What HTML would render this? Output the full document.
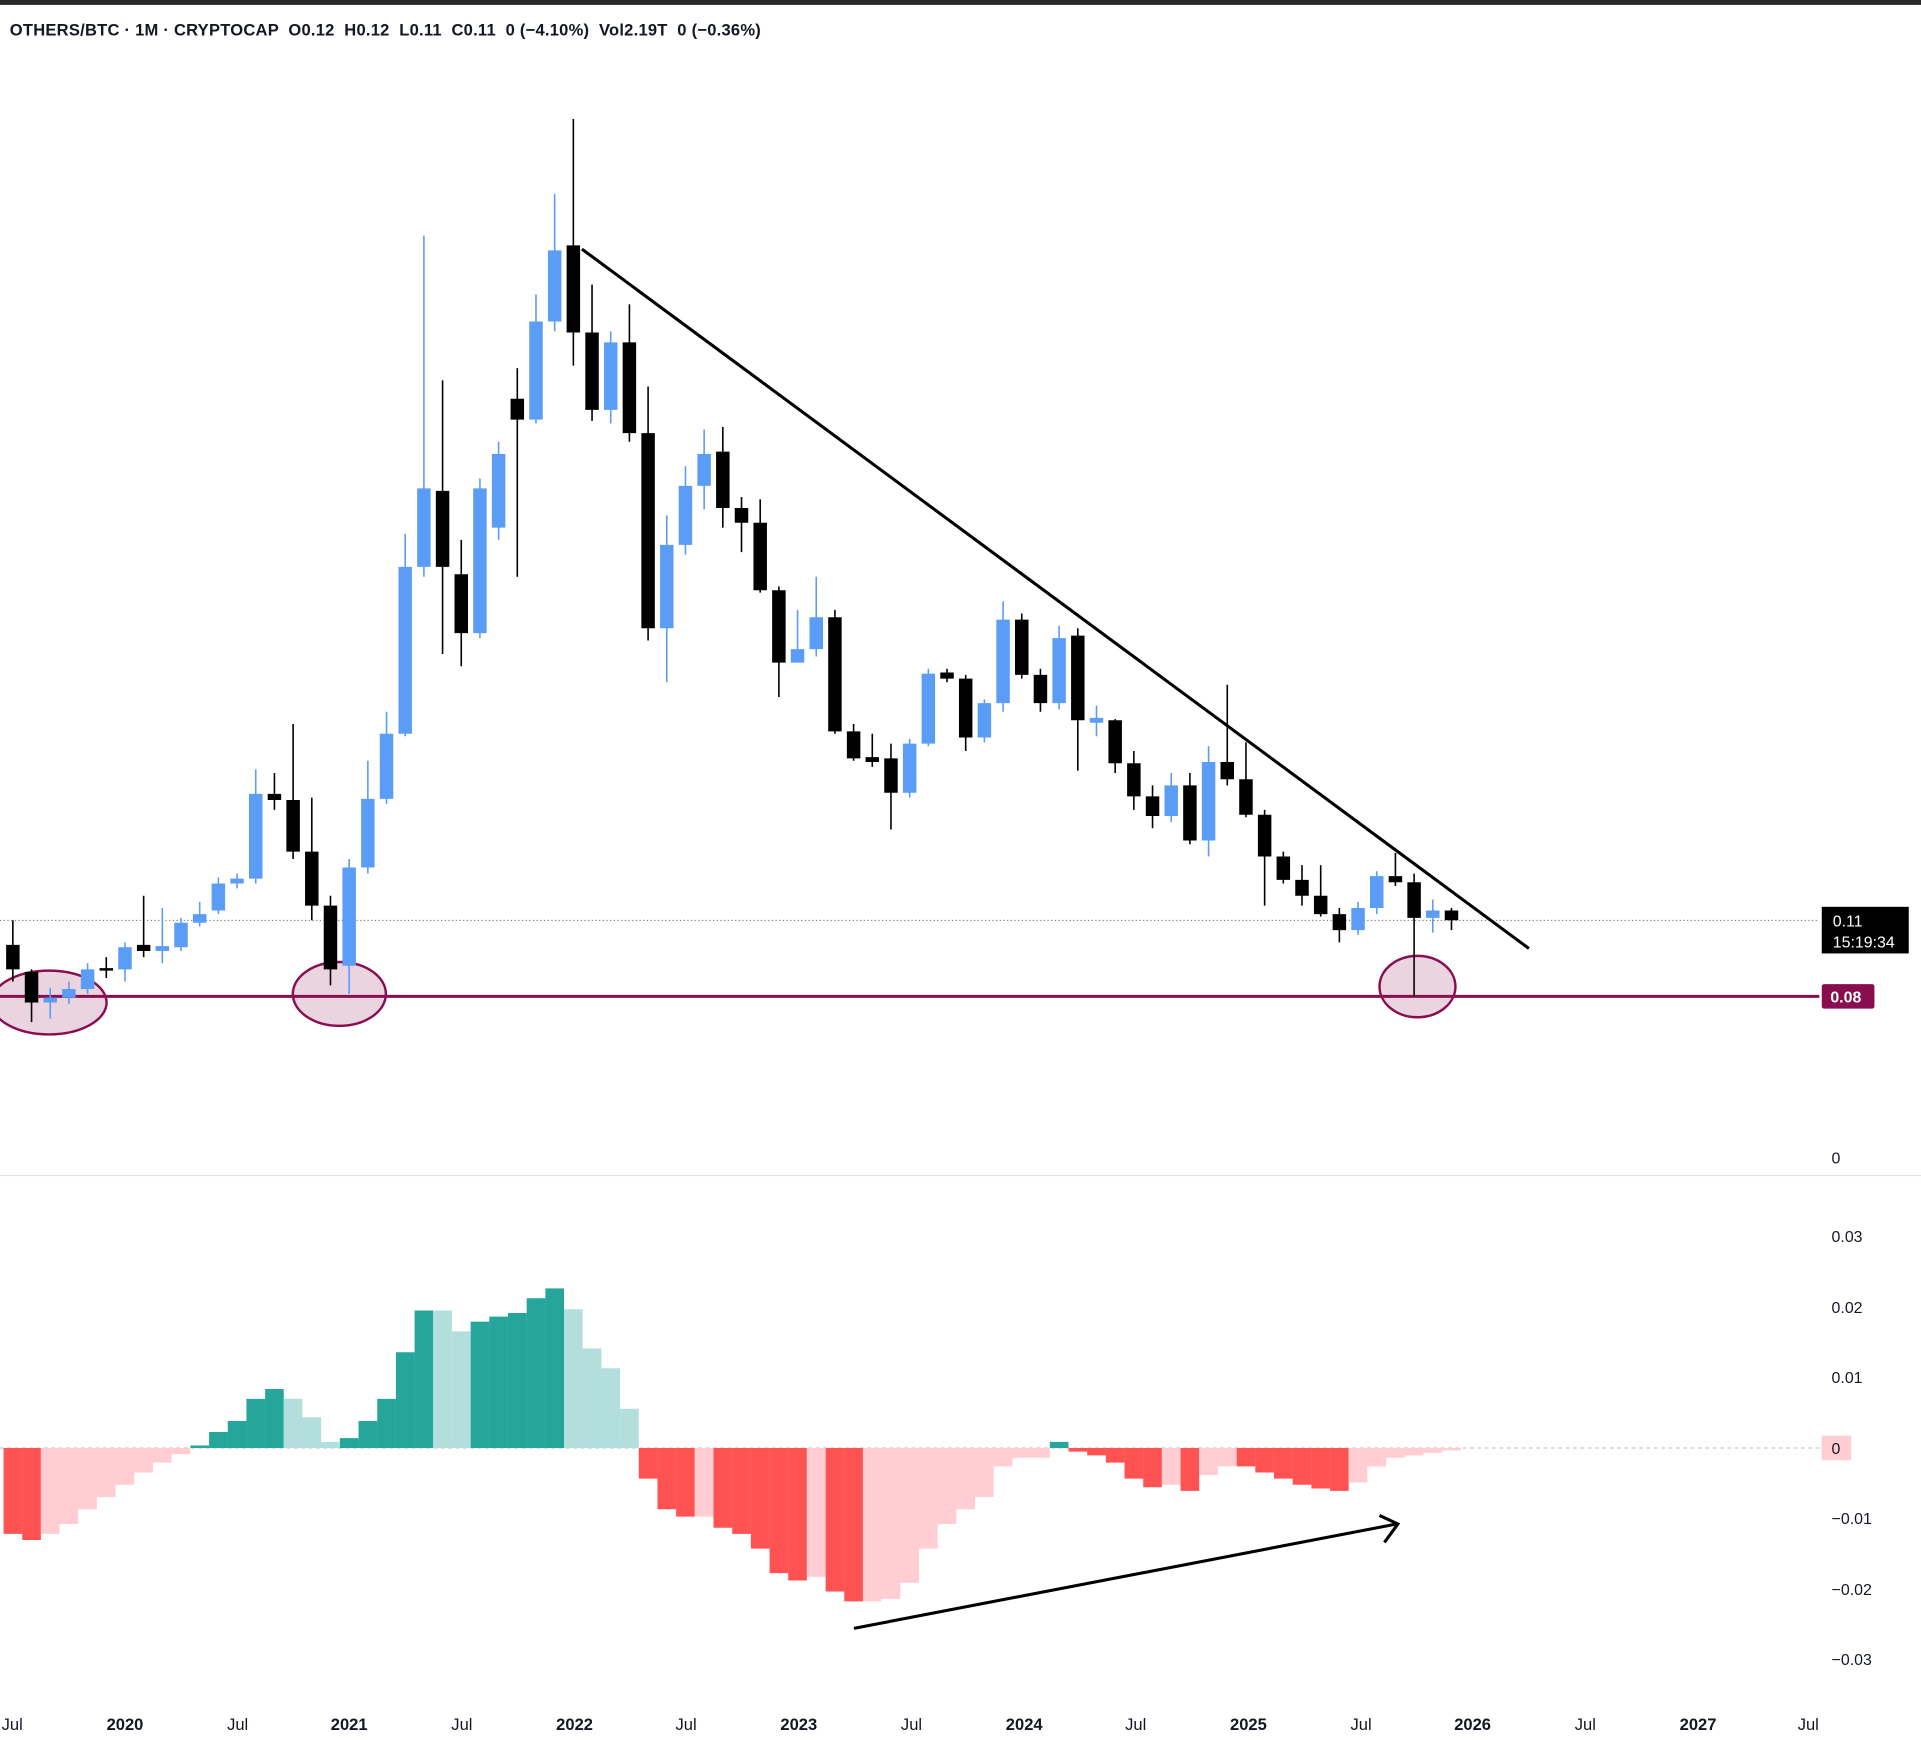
<!DOCTYPE html>
<html><head><meta charset="utf-8"><style>
html,body{margin:0;padding:0;background:#fff;}
svg{display:block;}
text{font-family:"Liberation Sans",sans-serif;}
</style></head><body>
<svg width="1921" height="1740" viewBox="0 0 1568 1418" preserveAspectRatio="none" xmlns="http://www.w3.org/2000/svg">
<rect x="0" y="0" width="1568" height="1418" fill="#fff"/>
<rect x="0" y="0" width="1568" height="4" fill="#2a2a2a"/>
<text x="8" y="29" font-size="13.5" font-weight="bold" fill="#131722" textLength="613" lengthAdjust="spacing" xml:space="preserve">OTHERS/BTC · 1M · CRYPTOCAP  O0.12  H0.12  L0.11  C0.11  0 (−4.10%)  Vol2.19T  0 (−0.36%)</text>
<line x1="0" y1="958" x2="1568" y2="958" stroke="#e0e3eb" stroke-width="1"/>
<line x1="0" y1="750" x2="1485" y2="750" stroke="#555" stroke-width="0.8" stroke-dasharray="1,2"/>
<line x1="0" y1="1180" x2="1485" y2="1180" stroke="#bbb" stroke-width="0.8" stroke-dasharray="3,3"/>
<g fill="rgba(136,14,79,0.18)" stroke="#880e4f" stroke-width="2">
<ellipse cx="40" cy="817" rx="47" ry="26"/>
<ellipse cx="277" cy="810" rx="38" ry="26"/>
<ellipse cx="1157" cy="804" rx="31" ry="25"/>
</g>
<line x1="0" y1="812" x2="1485" y2="812" stroke="#880e4f" stroke-width="2.5"/>

<path fill="none" stroke="#5b9cf6" stroke-width="1.3" d="M41 805V830M56.25 800V818M71.5 785V810M102 768V800M132.5 740V785M147.75 748V775M163 735V755M178.25 715V745M193.5 712V724M208.75 627V720M285 700V810M300.25 620V712M315.5 580V655M330.75 435V600M346 192V470M391.75 390V520M407 360V440M437.5 240V345M452.75 158V270M498.5 270V345M544.25 420V556M559.5 380V452M574.75 350V415M651 497V540M666.25 470V535M742.5 602V650M757.75 545V608M803.5 570V605M818.75 490V580M864.5 510V578M895 575V600M956 630V670M986.5 608V698M1108.5 735V762M1123.75 710V745M1169.5 733V760"/>
<path fill="none" stroke="#5b9cf6" stroke-width="11" d="M41 813V817M56.25 806V813M71.5 790V806M102 772V790M132.5 771V775M147.75 752V772M163 745V752M178.25 720V742M193.5 716V720M208.75 647V716M285 707V787M300.25 651V707M315.5 598V651M330.75 462V598M346 398V462M391.75 398V516M407 370V430M437.5 262V342M452.75 204V262M498.5 279V334M544.25 444V512M559.5 396V444M574.75 370V396M651 529V540M666.25 503V529M742.5 606V646M757.75 549V606M803.5 573V601M818.75 505V573M864.5 520V573M895 585V589M956 640V665M986.5 621V685M1108.5 740V758M1123.75 714V740M1169.5 742V748"/>
<path fill="none" stroke="#000" stroke-width="1.3" d="M10.5 750V800M25.75 790V833M86.75 780V797M117.25 730V780M224 630V660M239.25 590V700M254.5 650V750M269.75 730V803M361.25 310V533M376.5 440V543M422.25 300V470M468 97V298M483.25 232V343M513.75 248V360M529 315V522M590 348V430M605.25 405V450M620.5 407V483M635.75 478V568M681.5 497V598M696.75 590V620M712 598V625M727.25 606V676M773 545V556M788.25 550V612M834 500V553M849.25 545V580M879.75 512V628M910.25 586V630M925.5 612V660M940.75 640V675M971.25 630V688M1001.75 558V640M1017 605V666M1032.25 660V738M1047.5 694V720M1062.75 705V738M1078 705V747M1093.25 740V768M1139 695V722M1154.25 712V812M1184.75 740V758"/>
<path fill="none" stroke="#000" stroke-width="11" d="M10.5 770V790M25.75 792V817M86.75 789V791M117.25 770V775M224 647V652M239.25 652V694M254.5 694V738M269.75 738V790M361.25 400V462M376.5 468V516M422.25 325V342M468 200V271M483.25 271V334M513.75 279V353M529 353V512M590 368V414M605.25 414V426M620.5 426V481M635.75 481V540M681.5 503V596M696.75 596V618M712 617V621M727.25 618V646M773 548V553M788.25 553V601M834 505V550M849.25 550V573M879.75 518V587M910.25 587V622M925.5 622V649M940.75 649V665M971.25 640V685M1001.75 621V635M1017 635V664M1032.25 664V698M1047.5 698V717M1062.75 717V730M1078 730V745M1093.25 745V758M1139 714V719M1154.25 719V748M1184.75 742V750"/>

<path fill="none" stroke="#ff5252" stroke-width="15.2" d="M10.5 1180V1250M25.75 1180V1255M529 1180V1205M544.25 1180V1230M559.5 1180V1236M590 1180V1245M605.25 1180V1250M620.5 1180V1262M635.75 1180V1282M651 1180V1288M681.5 1180V1297M696.75 1180V1305M879.75 1180V1183M895 1180V1186M910.25 1180V1192M925.5 1180V1205M940.75 1180V1212M971.25 1180V1215M1017 1180V1195M1032.25 1180V1200M1047.5 1180V1205M1062.75 1180V1210M1078 1180V1213M1093.25 1180V1215"/>
<path fill="none" stroke="#ffcdd2" stroke-width="15.2" d="M41 1180V1250M56.25 1180V1242M71.5 1180V1230M86.75 1180V1220M102 1180V1210M117.25 1180V1200M132.5 1180V1192M147.75 1180V1185M574.75 1180V1236M666.25 1180V1285M712 1180V1305M727.25 1180V1303M742.5 1180V1290M757.75 1180V1262M773 1180V1242M788.25 1180V1230M803.5 1180V1220M818.75 1180V1195M834 1180V1188M849.25 1180V1188M956 1180V1210M986.5 1180V1202M1001.75 1180V1195M1108.5 1180V1208M1123.75 1180V1195M1139 1180V1188M1154.25 1180V1186M1169.5 1180V1184M1184.75 1180V1182"/>
<path fill="none" stroke="#26a69a" stroke-width="15.2" d="M163 1180V1178M178.25 1180V1167M193.5 1180V1158M208.75 1180V1140M224 1180V1132M285 1180V1172M300.25 1180V1158M315.5 1180V1140M330.75 1180V1102M346 1180V1068M391.75 1180V1077M407 1180V1073M422.25 1180V1070M437.5 1180V1058M452.75 1180V1050M864.5 1180V1175"/>
<path fill="none" stroke="#b2dfdb" stroke-width="15.2" d="M239.25 1180V1140M254.5 1180V1155M269.75 1180V1175M361.25 1180V1068M376.5 1180V1085M468 1180V1067M483.25 1180V1099M498.5 1180V1115M513.75 1180V1148"/>

<line x1="475" y1="203" x2="1248" y2="773" stroke="#000" stroke-width="2.5"/>
<line x1="697" y1="1327" x2="1140" y2="1242" stroke="#000" stroke-width="2.5"/>
<polyline points="1126,1235 1141,1242 1130,1257" fill="none" stroke="#000" stroke-width="2.5"/>
<rect x="1487" y="739" width="71" height="38" fill="#000"/>
<text x="1496" y="755" font-size="13" fill="#fff">0.11</text>
<text x="1496" y="772" font-size="13" fill="#fff">15:19:34</text>
<rect x="1487" y="802" width="43" height="20" rx="2" fill="#880e4f"/>
<text x="1494" y="817" font-size="13" fill="#fff" font-weight="bold">0.08</text>
<text x="1495" y="948" font-size="13" fill="#131722">0</text>
<rect x="1487" y="1170" width="24" height="20" fill="#ffcdd2"/>
<text x="1495" y="1185" font-size="13" fill="#131722">0</text>
<g font-size="13" fill="#131722">
<text x="1495" y="1012">0.03</text><text x="1495" y="1070">0.02</text><text x="1495" y="1127">0.01</text>
<text x="1495" y="1242">−0.01</text><text x="1495" y="1300">−0.02</text><text x="1495" y="1357">−0.03</text>
</g>
<g font-size="13.5" fill="#131722" text-anchor="middle">
<text x="10" y="1410">Jul</text><text x="102" y="1410" font-weight="bold">2020</text><text x="194" y="1410">Jul</text>
<text x="285" y="1410" font-weight="bold">2021</text><text x="377" y="1410">Jul</text><text x="469" y="1410" font-weight="bold">2022</text>
<text x="560" y="1410">Jul</text><text x="652" y="1410" font-weight="bold">2023</text><text x="744" y="1410">Jul</text>
<text x="836" y="1410" font-weight="bold">2024</text><text x="927" y="1410">Jul</text><text x="1019" y="1410" font-weight="bold">2025</text>
<text x="1111" y="1410">Jul</text><text x="1202" y="1410" font-weight="bold">2026</text><text x="1294" y="1410">Jul</text>
<text x="1386" y="1410" font-weight="bold">2027</text><text x="1476" y="1410">Jul</text>
</g>
</svg>
</body></html>
